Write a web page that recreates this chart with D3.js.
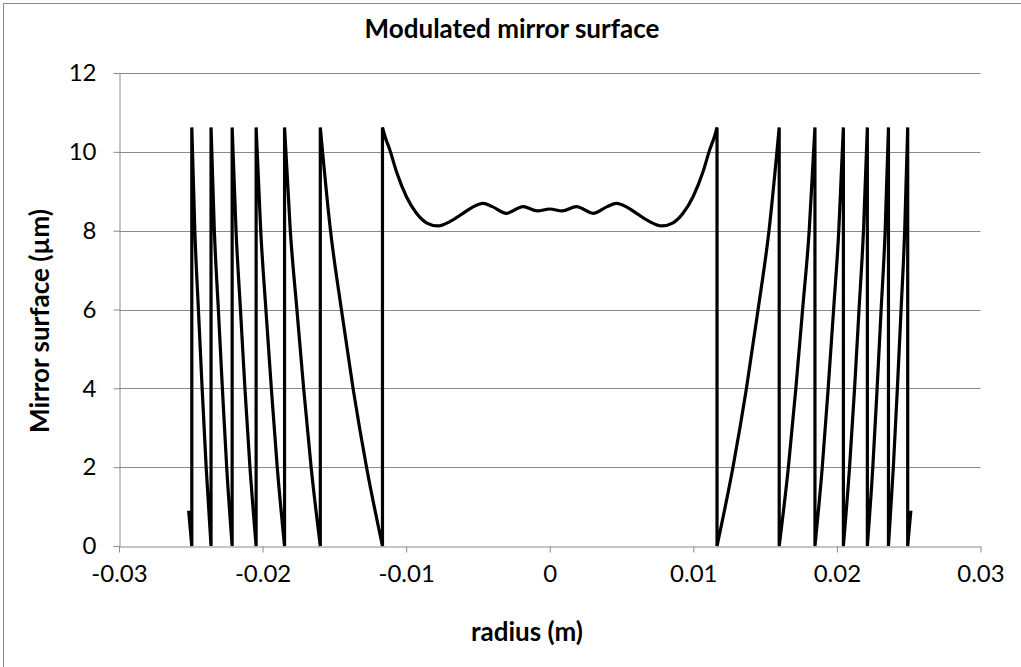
<!DOCTYPE html>
<html>
<head>
<meta charset="utf-8">
<script src="https://cdn.jsdelivr.net/npm/d3@7"></script>
<style>
  html, body { margin: 0; padding: 0; background: #fff; }
  svg { display: block; }
</style>
</head>
<body>
<svg id="chart" width="1021" height="667"></svg>
<script>
// ---- data ----
const chartTitle = "Modulated mirror surface";
const xTitle = "radius (m)";
const yTitle = "Mirror surface (µm)";
const xTicks = [-0.03, -0.02, -0.01, 0, 0.01, 0.02, 0.03];
const yTicks = [0, 2, 4, 6, 8, 10, 12];

const radius = [
  -0.02515, -0.02493,
  -0.02493, -0.02472, -0.02447, -0.02421, -0.02393, -0.02359,
  -0.02359, -0.02336, -0.02308, -0.02280, -0.02250, -0.02212,
  -0.02212, -0.02185, -0.02154, -0.02123, -0.02088, -0.02045,
  -0.02045, -0.02013, -0.01977, -0.01939, -0.01898, -0.01847,
  -0.01847, -0.01807, -0.01761, -0.01714, -0.01662, -0.01598,
  -0.01598, -0.01527, -0.01451, -0.01370, -0.01276, -0.01165,
  -0.01165, -0.01150, -0.01114, -0.01068, -0.00998, -0.00928, -0.00859, -0.00778, -0.00696,
  -0.00604, -0.00540, -0.00464, -0.00400, -0.00302, -0.00186, -0.00087, 0,
  0.00087, 0.00186, 0.00302, 0.00400, 0.00464, 0.00540, 0.00604,
  0.00696, 0.00778, 0.00859, 0.00928, 0.00998, 0.01068, 0.01114, 0.01150, 0.01165,
  0.01165, 0.01276, 0.01370, 0.01451, 0.01527, 0.01598,
  0.01598, 0.01662, 0.01714, 0.01761, 0.01807, 0.01847,
  0.01847, 0.01898, 0.01939, 0.01977, 0.02013, 0.02045,
  0.02045, 0.02088, 0.02123, 0.02154, 0.02185, 0.02212,
  0.02212, 0.02250, 0.02280, 0.02308, 0.02336, 0.02359,
  0.02359, 0.02393, 0.02421, 0.02447, 0.02472, 0.02493,
  0.02493, 0.02515
];
const surface = [
  0.9, 0,
  10.62, 8, 6, 4, 2, 0,
  10.62, 8, 6, 4, 2, 0,
  10.62, 8, 6, 4, 2, 0,
  10.62, 8, 6, 4, 2, 0,
  10.62, 8, 6, 4, 2, 0,
  10.62, 8, 6, 4, 2, 0,
  10.62, 10.42, 10.05, 9.50, 8.86, 8.44, 8.20, 8.12, 8.23,
  8.44, 8.59, 8.69, 8.61, 8.44, 8.61, 8.50, 8.55,
  8.50, 8.61, 8.44, 8.61, 8.69, 8.59, 8.44,
  8.23, 8.12, 8.20, 8.44, 8.86, 9.50, 10.05, 10.42, 10.62,
  0, 2, 4, 6, 8, 10.62,
  0, 2, 4, 6, 8, 10.62,
  0, 2, 4, 6, 8, 10.62,
  0, 2, 4, 6, 8, 10.62,
  0, 2, 4, 6, 8, 10.62,
  0, 2, 4, 6, 8, 10.62,
  0, 0.9
];

// ---- layout ----
const svg = d3.select("#chart");
const plotLeft = 119, plotRight = 980.5, plotTop = 73, plotBottom = 546;
const FONT = "Lato, 'Open Sans', sans-serif";
const gridColor = "#8a8a8a";

const x = d3.scaleLinear().domain([-0.03, 0.03]).range([plotLeft, plotRight]);
const y = d3.scaleLinear().domain([0, 12]).range([plotBottom, plotTop]);

// outer chart border (top/left visible)
svg.append("rect")
  .attr("x", 3.5).attr("y", 3.5).attr("width", 1100).attr("height", 800)
  .attr("fill", "none").attr("stroke", gridColor).attr("stroke-width", 1);

// gridlines
svg.append("g").selectAll("line").data(yTicks.filter(d => d > 0)).join("line")
  .attr("x1", plotLeft).attr("x2", plotRight)
  .attr("y1", d => Math.round(y(d)) + 0.5).attr("y2", d => Math.round(y(d)) + 0.5)
  .attr("stroke", gridColor).attr("stroke-width", 1);

// axes
const fmtX = d => (d === 0 ? "0" : (+d.toFixed(2)).toString());
const gx = svg.append("g").attr("transform", `translate(0,${Math.round(plotBottom) + 0.5})`)
  .call(d3.axisBottom(x).tickValues(xTicks).tickFormat(fmtX).tickSize(6).tickSizeOuter(0).tickPadding(12));
const gy = svg.append("g").attr("transform", `translate(${Math.round(plotLeft) + 0.5},0)`)
  .call(d3.axisLeft(y).tickValues(yTicks).tickFormat(d => String(d)).tickSize(6).tickSizeOuter(0).tickPadding(17));
[gx, gy].forEach(g => {
  g.select(".domain").attr("stroke", gridColor);
  g.selectAll(".tick line").attr("stroke", gridColor);
  g.selectAll(".tick text").attr("fill", "#000")
    .style("font-family", FONT).style("font-size", "24px");
});

// data line: vertical jumps joined to smooth runs between them
const pts = radius.map((r, i) => [r, surface[i]]);
const runs = [];
let cur = [pts[0]];
for (let i = 1; i < pts.length; i++) {
  if (pts[i][0] === pts[i - 1][0]) { runs.push(cur); cur = [pts[i]]; }
  else cur.push(pts[i]);
}
runs.push(cur);
const lineSmooth = d3.line().x(d => x(d[0])).y(d => y(d[1])).curve(d3.curveMonotoneX);
let dStr = "";
runs.forEach((run, k) => {
  let s = lineSmooth(run);
  if (k > 0) s = "L" + s.slice(1);
  dStr += s;
});
svg.append("path")
  .attr("d", dStr)
  .attr("fill", "none")
  .attr("stroke", "#000")
  .attr("stroke-width", 3.2)
  .attr("stroke-linejoin", "miter");

// titles
svg.append("text")
  .attr("x", 512).attr("y", 38)
  .attr("text-anchor", "middle")
  .style("font-family", FONT).style("font-weight", "bold").style("font-size", "26px")
  .text(chartTitle);
svg.append("text")
  .attr("x", 527).attr("y", 641)
  .attr("text-anchor", "middle")
  .style("font-family", FONT).style("font-weight", "bold").style("font-size", "26px")
  .text(xTitle);
svg.append("text")
  .attr("transform", "translate(49,321) rotate(-90)")
  .attr("text-anchor", "middle")
  .style("font-family", FONT).style("font-weight", "bold").style("font-size", "26px")
  .text(yTitle);
</script>
</body>
</html>
